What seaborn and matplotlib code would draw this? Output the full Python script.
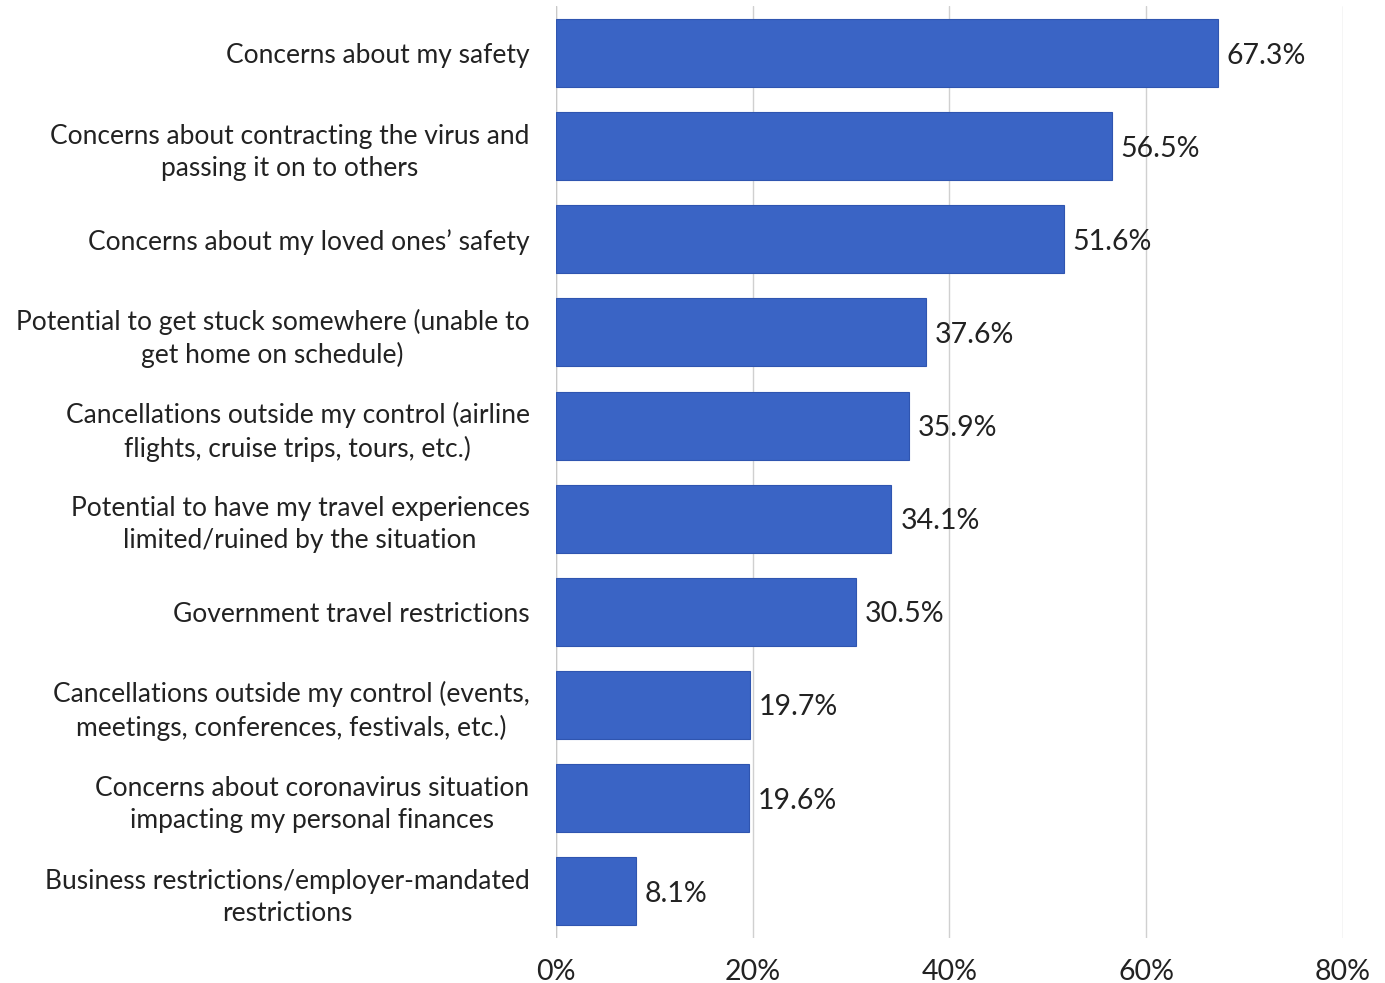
import matplotlib
matplotlib.use("Agg")
import matplotlib.pyplot as plt
import seaborn as sns
import pandas as pd

categories = [
    "Concerns about my safety",
    "Concerns about contracting the virus and\npassing it on to others",
    "Concerns about my loved ones\u2019 safety",
    "Potential to get stuck somewhere (unable to\nget home on schedule)",
    "Cancellations outside my control (airline\nflights, cruise trips, tours, etc.)",
    "Potential to have my travel experiences\nlimited/ruined by the situation",
    "Government travel restrictions",
    "Cancellations outside my control (events,\nmeetings, conferences, festivals, etc.)",
    "Concerns about coronavirus situation\nimpacting my personal finances",
    "Business restrictions/employer-mandated\nrestrictions",
]
values = [67.3, 56.5, 51.6, 37.6, 35.9, 34.1, 30.5, 19.7, 19.6, 8.1]
xticks = [0, 20, 40, 60, 80]
xtick_labels = ["0%", "20%", "40%", "60%", "80%"]

sns.set_theme(style="white")
plt.rcParams['font.family'] = ['Lato', 'DejaVu Sans']

df = pd.DataFrame({"category": categories, "value": values})

fig = plt.figure(figsize=(13.85, 9.83), dpi=100)
ax = fig.add_axes([0.4014, 0.046, 0.5683, 0.9474])
sns.barplot(data=df, x="value", y="category", color="#3A64C5", saturation=1,
            width=0.73, ax=ax, edgecolor="#2F55B0", linewidth=0.8, zorder=3)

for i, v in enumerate(values):
    ax.text(v + 0.9, i, f"{v:.1f}%", va="center_baseline", ha="left", fontsize=20.5, color="#222222", zorder=4)

ax.set_xlim(0, 80)
ax.set_ylim(9.5, -0.5)
ax.set_xticks(xticks)
ax.set_xticklabels(xtick_labels, fontsize=20.5, color="#222222")
ax.set_xlabel("")
ax.set_ylabel("")
ax.tick_params(axis="y", labelsize=19, colors="#222222", length=0, pad=19)
ax.tick_params(axis="x", length=0, pad=15)
for lbl in ax.get_yticklabels():
    lbl.set_multialignment("center")
    lbl.set_linespacing(1.35)
ax.xaxis.grid(True, color="#D0D0D0", linewidth=1, zorder=0)
ax.axvline(0, color="#C8C8C8", linewidth=1, zorder=1)
for s in ax.spines.values():
    s.set_visible(False)

fig.savefig("out.png", dpi=100, facecolor="white")
